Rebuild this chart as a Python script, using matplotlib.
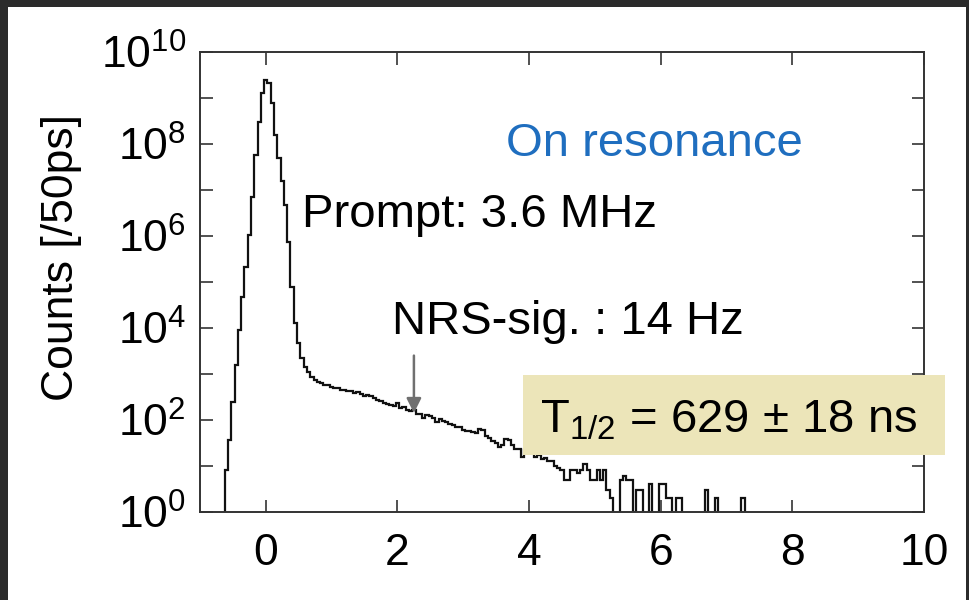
import numpy as np
import matplotlib
matplotlib.use("Agg")
import matplotlib.pyplot as plt
from matplotlib.patches import Rectangle

plt.rcParams['font.family'] = ['Liberation Sans', 'DejaVu Sans']
plt.rcParams['mathtext.fontset'] = 'custom'
plt.rcParams['mathtext.rm'] = 'Liberation Sans'
plt.rcParams['mathtext.it'] = 'Liberation Sans:italic'

# histogram: 50 ps bins, first bin centred at -0.60 ns
bin_width = 0.05
first_center = -0.60
counts = [
    8, 37, 250, 1550, 8900, 4.8e4, 2.1e5, 1.05e6, 7.2e6, 5.8e7,
    3.0e8, 1.3e9, 2.5e9, 2.1e9, 7.8e8, 1.6e8, 5.0e7, 1.6e7, 4.7e6, 7.4e5,
    7.9e4, 1.26e4, 4800, 2200, 1450, 1120, 870, 740, 680, 630,
    590, 575, 525, 500, 490, 457, 447, 427, 417, 389,
    407, 363, 339, 347, 331, 302, 275, 257, 240, 224,
    214, 200, 229, 186, 190, 162, 158, 162, 138, 132,
    112, 126, 120, 112, 91, 105, 95, 91, 83, 78,
    71, 69, 62, 58, 59, 54, 52, 63, 62, 46,
    40, 35, 31, 26, 28, 38, 36, 28, 24, 24,
    16, 22, 21, 20, 16, 17, 14, 15, 13, 13,
    10, 9, 8, 5, 5, 8, 8, 7, 8, 11,
    8, 5, 5, 8, 5, 8, 3, 2, 0, 0,
    5, 6, 5, 5, 0, 3, 3, 0, 0, 4,
    0, 0, 4, 4, 2, 2, 0, 2, 2, 0,
    0, 0, 0, 0, 0, 0, 3, 0, 0, 2,
    0, 0, 0, 0, 0, 0, 0, 2, 0,
]

xticks = [0, 2, 4, 6, 8, 10]
ytick_exp = [0, 2, 4, 6, 8, 10]

edges = first_center - bin_width / 2 + bin_width * np.arange(len(counts) + 1)

fig = plt.figure(figsize=(9.7, 6), dpi=100)
fig.patch.set_facecolor('#2b2b2b')
fig.add_artist(Rectangle((8 / 970, 0), 958 / 970, 593 / 600,
                         transform=fig.transFigure, facecolor='white',
                         edgecolor='none', zorder=-5))

ax = fig.add_axes([200 / 970, 1 - 512 / 600, 724 / 970, 460 / 600])
ax.set_yscale('log')
ax.stairs(counts, edges, color='#111111', linewidth=1.6, baseline=0)

ax.set_xlim(-1, 10)
ax.set_ylim(1, 1e10)
ax.set_xticks(xticks)
ax.set_xticklabels([str(t) for t in xticks])
ax.set_yticks([10.0 ** e for e in range(11)])
ax.set_yticklabels([r'$\mathregular{10^{%d}}$' % e if e in ytick_exp else ''
                    for e in range(11)])
ax.yaxis.set_minor_locator(matplotlib.ticker.NullLocator())
ax.tick_params(direction='in', top=True, right=True, length=9, width=1.2,
               color='#333333', labelsize=32)
ax.tick_params(axis='x', pad=15)
ax.tick_params(axis='y', pad=10)
for s in ax.spines.values():
    s.set_color('#333333')
    s.set_linewidth(1.4)

fig.text(62 / 970, 1 - 258 / 600, 'Counts [/50ps]', rotation=90,
         ha='center', va='center', fontsize=32)

ax.text(5.9, 10 ** 8.0, 'On resonance', color='#1f6ebf', fontsize=34,
        ha='center', va='center')
ax.text(0.55, 10 ** 6.45, 'Prompt: 3.6 MHz', fontsize=34, ha='left', va='center')
ax.text(1.92, 10 ** 4.12, 'NRS-sig. : 14 Hz', fontsize=34, ha='left', va='center')
ax.annotate('', xy=(2.25, 10 ** 2.15), xytext=(2.25, 10 ** 3.4),
            arrowprops=dict(arrowstyle='-|>', color='#707070', lw=1.8,
                            mutation_scale=22, shrinkA=0, shrinkB=0))

fig.add_artist(Rectangle((523 / 970, 1 - 455 / 600), 422 / 970, 80 / 600,
                         transform=fig.transFigure, facecolor='#ece5b9',
                         edgecolor='none', zorder=3))
fig.text(540 / 970, 1 - 420 / 600, r'$\mathregular{T_{1/2}}$ = 629 ± 18 ns',
         fontsize=34, ha='left', va='center', zorder=4)

fig.savefig('out.png', dpi=100, facecolor=fig.get_facecolor())
